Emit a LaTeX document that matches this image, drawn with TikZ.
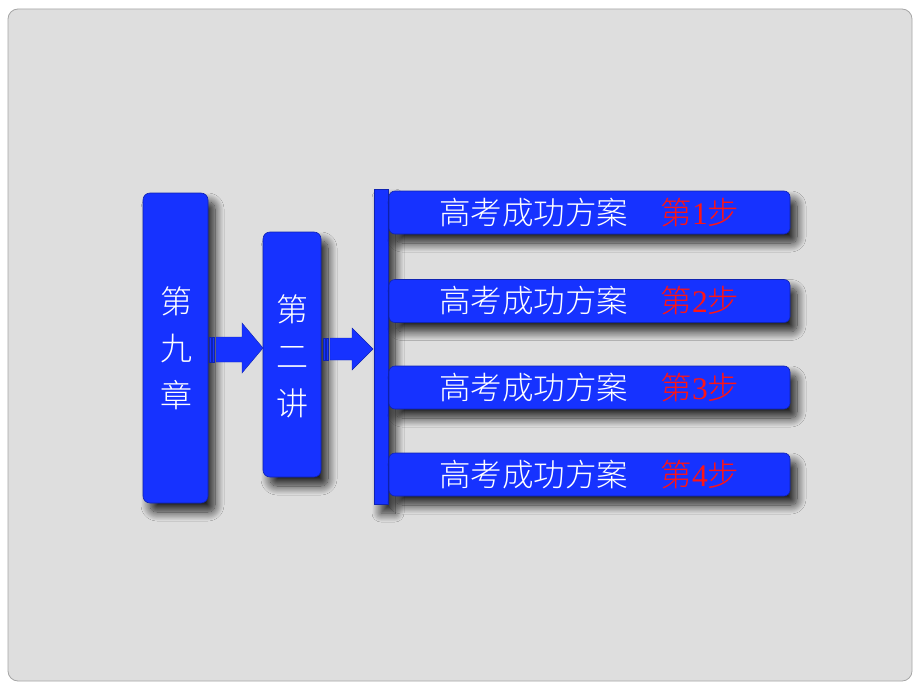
\documentclass[tikz,border=0pt]{standalone}
\usepackage{fontspec}
\newfontfamily\cjk{Noto Sans CJK SC Light}
\setmainfont{Liberation Serif}
\usetikzlibrary{shadows.blur}
\definecolor{boxblue}{RGB}{22,50,255}
\definecolor{panel}{RGB}{222,222,222}
\definecolor{stepred}{RGB}{255,20,20}
\tikzset{
  softshadow/.style={blur shadow={shadow xshift=7pt, shadow yshift=-9pt, shadow blur steps=16, shadow opacity=85, shadow blur radius=9pt}},
  bluebox/.style={fill=boxblue, draw=boxblue!70!black, line width=0.6pt, rounded corners=7pt, inner sep=0pt, softshadow},
  stepbar/.style={bluebox, minimum width=401pt, minimum height=43pt, rounded corners=6pt},
  vtext/.style={text=white, font=\cjk\fontsize{32}{47}\selectfont, align=center},
  bartext/.style={font=\cjk\fontsize{31.5}{36}\selectfont},
  arrowfill/.style={fill=boxblue, draw=boxblue!70!black, line width=0.4pt}
}
\begin{document}
\begin{tikzpicture}[x=1pt,y=-1pt]
\useasboundingbox (0,0) rectangle (920,690);
\fill[white] (0,0) rectangle (920,690);
\filldraw[fill=panel, draw=gray!70, line width=0.8pt, rounded corners=10pt] (8,9) rectangle (912,681);

% left boxes
\node[bluebox, minimum width=65pt, minimum height=310pt] (b1) at (175.5,348) {};
\node[vtext] (t1) at (176,348) {第\\九\\章};
\node[bluebox, minimum width=58pt, minimum height=245pt] (b2) at (292,354.5) {};
\node[vtext] (t2) at (292,356) {第\\二\\讲};

% vertical bar
\node[fill=boxblue, draw=boxblue!70!black, line width=0.4pt, inner sep=0pt, minimum width=14pt, minimum height=315pt, softshadow] (vb) at (381,346.5) {};

% striped arrows
\begin{scope}[blur shadow={shadow xshift=5pt, shadow yshift=-7pt, shadow blur steps=10, shadow opacity=70, shadow blur radius=6pt}]
\path[arrowfill] (209,337) rectangle (211,362);
\path[arrowfill] (212.5,337) rectangle (214.5,362);
\path[arrowfill] (216,337) -- (242,337) -- (242,323) -- (263,348) -- (242,373) -- (242,362) -- (216,362) -- cycle;
\path[arrowfill] (323,338) rectangle (325,360);
\path[arrowfill] (326.5,338) rectangle (328.5,360);
\path[arrowfill] (330,338) -- (352,338) -- (352,328) -- (373,349) -- (352,370) -- (352,360) -- (330,360) -- cycle;
\end{scope}

% step bars
\foreach \i/\y in {1/212.5, 2/301, 3/387.5, 4/474.5}{
  \node[stepbar] (s\i) at (589.5,\y) {};
  \node[bartext, text=white, anchor=center] (l\i) at (533.5,\y) {高考成功方案};
  \node[bartext, text=stepred, anchor=center] (r\i) at (700,\y) {第\rmfamily\i\cjk 步};
}
\end{tikzpicture}
\end{document}
